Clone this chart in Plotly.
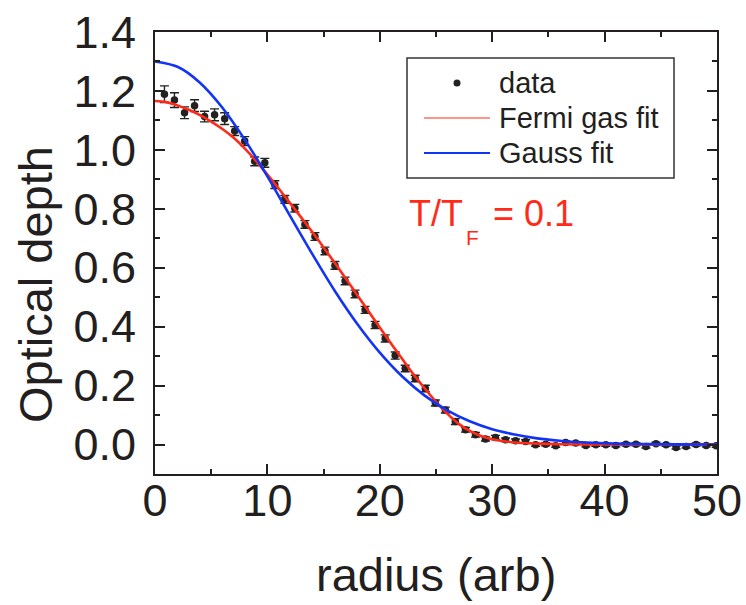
import plotly.graph_objects as go

# ---------------- data ----------------
radius = [0.84, 1.73, 2.63, 3.52, 4.41, 5.30, 6.20, 7.09, 7.98, 8.87,
          9.77, 10.66, 11.55, 12.44, 13.34, 14.23, 15.12, 16.01, 16.91, 17.80,
          18.69, 19.58, 20.48, 21.37, 22.26, 23.15, 24.05, 24.94, 25.83, 26.72,
          27.62, 28.51, 29.40, 30.29, 31.19, 32.08, 32.97, 33.86, 34.76, 35.65,
          36.54, 37.43, 38.33, 39.22, 40.11, 41.00, 41.90, 42.79, 43.68, 44.57,
          45.47, 46.36, 47.25, 48.14, 49.04, 49.93]
od = [1.189, 1.169, 1.126, 1.150, 1.113, 1.119, 1.106, 1.064, 1.030, 0.961,
      0.956, 0.882, 0.832, 0.802, 0.747, 0.706, 0.657, 0.608, 0.555, 0.511,
      0.457, 0.406, 0.360, 0.302, 0.258, 0.224, 0.190, 0.141, 0.117, 0.078,
      0.050, 0.033, 0.019, 0.024, 0.016, 0.013, 0.010, -0.001, 0.001, -0.004,
      0.007, 0.005, -0.003, -0.001, -0.001, -0.003, 0.001, 0.001, -0.007, 0.003,
      -0.001, -0.010, -0.007, 0.000, -0.003, -0.004]
od_err = [0.028, 0.025, 0.020, 0.020, 0.018, 0.020, 0.020, 0.015, 0.015, 0.015,
          0.015, 0.013, 0.013, 0.013, 0.013, 0.013, 0.013, 0.013, 0.013, 0.013,
          0.012, 0.012, 0.012, 0.012, 0.011, 0.011, 0.011, 0.010, 0.010, 0.010,
          0.008, 0.008, 0.007, 0.007, 0.006, 0.006, 0.006, 0.005, 0.005, 0.005,
          0.005, 0.005, 0.005, 0.005, 0.005, 0.005, 0.005, 0.005, 0.005, 0.005,
          0.005, 0.005, 0.005, 0.005, 0.005, 0.005]

fermi_r = [0, 1, 2, 3, 4, 5, 6, 7, 8, 9, 10, 11, 12, 13, 14, 15, 16, 17, 18,
           19, 20, 21, 22, 23, 24, 25, 26, 27, 28, 29, 30, 32, 34, 36, 40, 45, 50]
fermi_od = [1.166, 1.162, 1.151, 1.136, 1.118, 1.096, 1.071, 1.041, 1.004, 0.962,
            0.916, 0.869, 0.820, 0.771, 0.721, 0.669, 0.616, 0.562, 0.507, 0.452,
            0.397, 0.343, 0.290, 0.238, 0.190, 0.145, 0.105, 0.071, 0.046, 0.029,
            0.018, 0.007, 0.003, 0.001, 0.000, 0.000, 0.000]

gauss_r = [0, 2, 4, 6, 8, 10, 12, 14, 16, 18, 20, 22, 24, 26, 28, 30, 32, 34,
           36, 38, 40, 42, 44, 46, 48, 50]
gauss_od = [1.300, 1.282, 1.228, 1.143, 1.034, 0.910, 0.777, 0.646, 0.521, 0.409,
            0.312, 0.231, 0.166, 0.116, 0.079, 0.052, 0.034, 0.021, 0.013, 0.0075,
            0.0043, 0.0024, 0.0013, 0.0007, 0.0003, 0.0001]

legend_labels = ["data", "Fermi gas fit", "Gauss fit"]
temp_text = ["T/T", "F", "= 0.1"]

# ---------------- style ----------------
W, H = 746, 605
L, R, T, B = 155, 717, 32, 474
FONT = "Liberation Sans, Arial, sans-serif"
INK = "#231f20"
RED = "#ff2a17"
BLUE = "#1234f5"


def px(x):
    return (x - L) / (R - L)


def py(y):
    return (B - y) / (B - T)


fig = go.Figure()
fig.add_trace(go.Scatter(
    x=radius, y=od, mode="markers", name=legend_labels[0],
    marker=dict(size=7.5, color="#222222"),
    error_y=dict(type="data", array=od_err, visible=True,
                 color="#222222", thickness=1.4, width=4.5),
    showlegend=False, cliponaxis=True))
fig.add_trace(go.Scatter(
    x=fermi_r, y=fermi_od, mode="lines", name=legend_labels[1],
    line=dict(color=RED, width=2.6, shape="spline", smoothing=0.8),
    showlegend=False))
fig.add_trace(go.Scatter(
    x=gauss_r, y=gauss_od, mode="lines", name=legend_labels[2],
    line=dict(color=BLUE, width=2.6, shape="spline", smoothing=0.8),
    showlegend=False))

axis_common = dict(
    showline=True, linewidth=2, linecolor=INK, mirror="ticks",
    ticks="inside", ticklen=10, tickwidth=2, tickcolor=INK,
    showgrid=False, zeroline=False, automargin=False,
    tickfont=dict(family=FONT, size=45, color=INK),
)

fig.update_xaxes(range=[0, 50], dtick=10, tick0=0,
                 minor=dict(dtick=5, ticks="inside", ticklen=5, tickwidth=2, tickcolor=INK),
                 ticklabelstandoff=-14, **axis_common)
fig.update_yaxes(range=[-0.1, 1.4], dtick=0.2, tick0=0, tickformat=".1f",
                 minor=dict(dtick=0.1, ticks="inside", ticklen=5, tickwidth=2, tickcolor=INK),
                 ticklabelstandoff=8, **axis_common)

annotations = [
    dict(text="Optical depth", textangle=-90, x=px(35), y=py(285),
         xref="paper", yref="paper", showarrow=False,
         font=dict(family=FONT, size=47, color=INK), xanchor="center", yanchor="middle"),
    dict(text="radius (arb)", x=px(436), y=py(574),
         xref="paper", yref="paper", showarrow=False,
         font=dict(family=FONT, size=47, color=INK), xanchor="center", yanchor="middle"),
    # T/T_F = 0.1
    dict(text=temp_text[0], x=px(407), y=py(213), xref="paper", yref="paper",
         showarrow=False, font=dict(family=FONT, size=36, color=RED),
         xanchor="left", yanchor="middle"),
    dict(text=temp_text[1], x=px(464), y=py(237), xref="paper", yref="paper",
         showarrow=False, font=dict(family=FONT, size=21, color=RED),
         xanchor="left", yanchor="middle"),
    dict(text=temp_text[2], x=px(491), y=py(213), xref="paper", yref="paper",
         showarrow=False, font=dict(family=FONT, size=36, color=RED),
         xanchor="left", yanchor="middle"),
]

# legend (drawn manually)
leg_rows = [83, 118, 153]
for lab, yy in zip(legend_labels, leg_rows):
    annotations.append(dict(text=lab, x=px(497), y=py(yy), xref="paper", yref="paper",
                            showarrow=False, font=dict(family=FONT, size=29, color=INK),
                            xanchor="left", yanchor="middle"))

shapes = [
    dict(type="rect", xref="paper", yref="paper", x0=px(407), x1=px(674),
         y0=py(58), y1=py(178), line=dict(color="#333333", width=1.5),
         fillcolor="white", layer="above"),
    dict(type="circle", xref="paper", yref="paper", x0=px(453.5), x1=px(460.5),
         y0=py(79.5), y1=py(86.5), line=dict(color="#222222", width=0),
         fillcolor="#222222", layer="above"),
    dict(type="line", xref="paper", yref="paper", x0=px(424), x1=px(490),
         y0=py(118), y1=py(118), line=dict(color=RED, width=1.2), layer="above"),
    dict(type="line", xref="paper", yref="paper", x0=px(424), x1=px(490),
         y0=py(153), y1=py(153), line=dict(color=BLUE, width=2.2), layer="above"),
]

fig.update_layout(
    width=W, height=H,
    margin=dict(l=L, r=W - R, t=T, b=H - B, pad=0, autoexpand=False),
    paper_bgcolor="white", plot_bgcolor="white",
    showlegend=False,
    annotations=annotations, shapes=shapes,
    font=dict(family=FONT, color=INK),
)

fig.write_html("out.html")
